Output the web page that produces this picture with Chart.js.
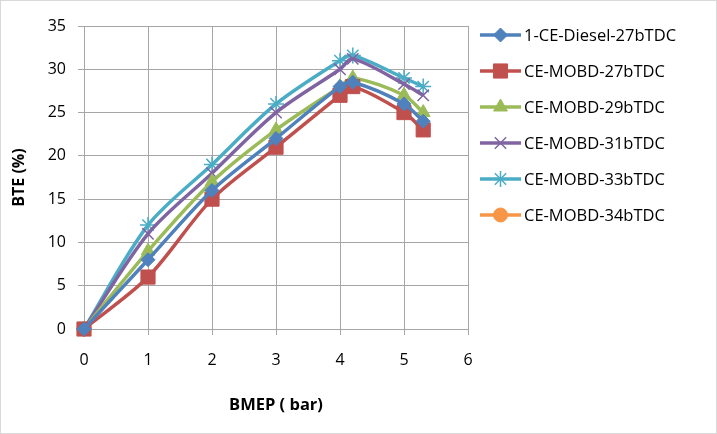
<!DOCTYPE html>
<html>
<head>
<meta charset="utf-8">
<script src="https://cdn.jsdelivr.net/npm/chart.js@4.4.1/dist/chart.umd.min.js"></script>
<style>
  html, body { margin: 0; padding: 0; background: #fff; }
  #wrap { width: 717px; height: 434px; }
</style>
</head>
<body>
<div id="wrap"><canvas id="bteChart" width="717" height="434"></canvas></div>
<script>
// BMEP (bar) load points
const bmep = [0, 1, 2, 3, 4, 4.2, 5, 5.3];

// BTE (%) per injection timing
const diesel27 = [0, 8, 16, 22, 28, 28.5, 26, 24];
const mobd27 = [0, 6, 15, 21, 27, 28, 25, 23];
const mobd29 = [0, 9, 17, 23, 28, 29, 27, 25];
const mobd31 = [0, 11, 18, 25, 30, 31.2, 28.3, 27];
const mobd33 = [0, 12, 19, 26, 31, 31.6, 29, 28];
const mobd34 = [0];

const seriesNames = ['1-CE-Diesel-27bTDC', 'CE-MOBD-27bTDC', 'CE-MOBD-29bTDC',
  'CE-MOBD-31bTDC', 'CE-MOBD-33bTDC', 'CE-MOBD-34bTDC'];
const seriesValues = [diesel27, mobd27, mobd29, mobd31, mobd33, mobd34];
const colors = ['#4F81BD', '#C0504D', '#9BBB59', '#8064A2', '#4BACC6', '#F79646'];
const markers = ['rectRot', 'rect', 'triangle', 'crossRot', 'star', 'circle'];
const markerSize = [7, 10, 8, 8, 8, 7];

const yTicks = [0, 5, 10, 15, 20, 25, 30, 35];
const xTicks = [0, 1, 2, 3, 4, 5, 6];

const FONT = '"Open Sans", Lato, sans-serif';

const datasets = seriesNames.map((name, i) => ({
  label: name,
  data: seriesValues[i].map((v, j) => ({ x: bmep[j], y: v })),
  borderColor: colors[i],
  backgroundColor: colors[i],
  borderWidth: 3.5,
  pointStyle: markers[i],
  pointRadius: markerSize[i],
  pointBorderColor: colors[i],
  pointBackgroundColor: colors[i],
  pointBorderWidth: (markers[i] === 'crossRot' || markers[i] === 'star') ? 1.5 : 1,
  tension: 0.3,
  clip: false,
  fill: false
}));

// legend drawn Excel-style: short line with marker in the middle
const excelLegend = {
  id: 'excelLegend',
  afterDraw(chart) {
    const ctx = chart.ctx;
    ctx.save();
    chart.data.datasets.forEach((ds, i) => {
      const y = 35 + i * 36;
      ctx.strokeStyle = ds.borderColor;
      ctx.lineWidth = 3.5;
      ctx.beginPath();
      ctx.moveTo(480, y);
      ctx.lineTo(521, y);
      ctx.stroke();
      const opts = {
        pointStyle: ds.pointStyle,
        radius: ds.pointRadius,
        borderWidth: ds.pointBorderWidth,
        rotation: 0
      };
      ctx.fillStyle = ds.pointBackgroundColor;
      ctx.strokeStyle = ds.pointBorderColor;
      ctx.lineWidth = ds.pointBorderWidth;
      Chart.helpers.drawPoint(ctx, opts, 500.5, y);
      ctx.fillStyle = '#000';
      ctx.font = '16.5px ' + FONT;
      ctx.textBaseline = 'middle';
      ctx.textAlign = 'left';
      ctx.fillText(ds.label, 524, y + 1);
    });
    // outer chart border
    ctx.strokeStyle = '#d9d9d9';
    ctx.lineWidth = 1;
    ctx.strokeRect(0.5, 0.5, chart.width - 1, chart.height - 1);
    ctx.restore();
  }
};

new Chart(document.getElementById('bteChart'), {
  type: 'line',
  data: { datasets: datasets },
  options: {
    responsive: false,
    animation: false,
    layout: { padding: { top: 26, right: 249, left: 1, bottom: 0 } },
    plugins: { legend: { display: false }, tooltip: { enabled: false } },
    scales: {
      x: {
        type: 'linear',
        min: 0, max: 6,
        afterBuildTicks: axis => { axis.ticks = xTicks.map(v => ({ value: v })); },
        afterFit: axis => { axis.height = 105; },
        grid: { color: '#a6a6a6', lineWidth: 1, tickLength: 6, drawTicks: true },
        border: { color: '#a6a6a6' },
        ticks: { color: '#000', font: { family: FONT, size: 16 }, padding: 16, maxRotation: 0 },
        title: { display: true, text: 'BMEP ( bar)', color: '#000',
          font: { family: FONT, size: 16.5, weight: 'bold' }, padding: { top: 4, bottom: 19 } }
      },
      y: {
        min: 0, max: 35,
        afterBuildTicks: axis => { axis.ticks = yTicks.map(v => ({ value: v })); },
        afterFit: axis => { axis.width = 83; },
        grid: { color: '#a6a6a6', lineWidth: 1, tickLength: 6 },
        border: { color: '#a6a6a6' },
        ticks: { color: '#000', font: { family: FONT, size: 16 }, padding: 12 },
        title: { display: true, text: 'BTE (%)', color: '#000',
          font: { family: FONT, size: 16, weight: 'bold' }, padding: { top: 9, bottom: 4 } }
      }
    }
  },
  plugins: [excelLegend]
});
</script>
</body>
</html>
